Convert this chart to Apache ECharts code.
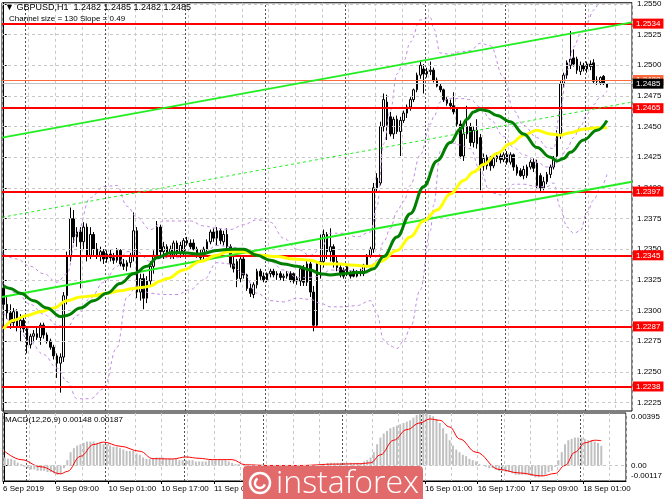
<!DOCTYPE html>
<html><head><meta charset="utf-8">
<script src="https://cdn.jsdelivr.net/npm/echarts@6/dist/echarts.min.js"></script>
<style>html,body{margin:0;padding:0;background:#fff}#c{width:665px;height:499px}</style>
</head><body><div id="c"></div>
<script>
const symbolTitle = 'GBPUSD,H1';
const channelText = 'Channel size = 130 Slope = 0.49';
const macdTitle = 'MACD(12,26,9)';
const xTickLabels = ['6 Sep 2019','9 Sep 09:00','10 Sep 01:00','10 Sep 17:00','11 Sep 09:00','12 Sep 01:00','12 Sep 17:00','13 Sep 09:00','16 Sep 01:00','16 Sep 17:00','17 Sep 09:00','18 Sep 01:00'];
const labelEvery = 16;
const gridEvery = 8;
const daySeparators = [7,31,55,79,103,127,151,175];
const emptyBars = 7;

const opens = [
1.2318,1.2305,1.2298,1.2290,1.2299,1.2287,1.2292,1.2285,1.2272,1.2279,
1.2281,1.2278,1.2288,1.2280,1.2275,1.2270,1.2263,1.2257,1.2262,1.2312,
1.2344,1.2375,1.2360,1.2364,1.2356,1.2368,1.2345,1.2362,1.2350,1.2345,
1.2348,1.2342,1.2346,1.2343,1.2341,1.2349,1.2338,1.2336,1.2339,1.2345,
1.2365,1.2315,1.2326,1.2310,1.2324,1.2336,1.2345,1.2368,1.2348,1.2352,
1.2346,1.2345,1.2355,1.2347,1.2348,1.2357,1.2355,1.2355,1.2350,1.2345,
1.2344,1.2350,1.2356,1.2364,1.2359,1.2365,1.2356,1.2362,1.2352,1.2338,
1.2340,1.2326,1.2342,1.2329,1.2318,1.2313,1.2321,1.2332,1.2328,1.2325,
1.2330,1.2332,1.2329,1.2330,1.2327,1.2328,1.2330,1.2330,1.2324,1.2324,
1.2334,1.2323,1.2338,1.2315,1.2288,1.2338,1.2340,1.2362,1.2348,1.2352,
1.2340,1.2335,1.2333,1.2336,1.2330,1.2332,1.2328,1.2331,1.2330,1.2337,
1.2345,1.2350,1.2400,1.2404,1.2450,1.2470,1.2458,1.2444,1.2456,1.2446,
1.2455,1.2461,1.2466,1.2472,1.2480,1.2492,1.2497,1.2493,1.2495,1.2496,
1.2488,1.2483,1.2480,1.2472,1.2469,1.2467,1.2465,1.2452,1.2426,1.2444,
1.2450,1.2437,1.2447,1.2441,1.2418,1.2418,1.2425,1.2418,1.2424,1.2426,
1.2423,1.2427,1.2421,1.2427,1.2417,1.2414,1.2410,1.2410,1.2417,1.2421,
1.2420,1.2410,1.2400,1.2405,1.2411,1.2417,1.2426,1.2444,1.2485,1.2492,
1.2500,1.2506,1.2505,1.2495,1.2500,1.2497,1.2501,1.2502,1.2487,1.2486,
1.2491,1.2482];
const highs = [
1.2322,1.2312,1.2305,1.2302,1.2301,1.2297,1.2294,1.2287,1.2281,1.2284,
1.2286,1.2290,1.2290,1.2282,1.2277,1.2272,1.2265,1.2265,1.2315,1.2348,
1.2384,1.2382,1.2368,1.2368,1.2372,1.2371,1.2368,1.2364,1.2355,1.2352,
1.2350,1.2349,1.2350,1.2347,1.2351,1.2350,1.2342,1.2341,1.2347,1.2380,
1.2368,1.2330,1.2330,1.2328,1.2340,1.2349,1.2373,1.2370,1.2356,1.2354,
1.2353,1.2357,1.2357,1.2356,1.2359,1.2360,1.2358,1.2358,1.2352,1.2350,
1.2352,1.2358,1.2366,1.2367,1.2368,1.2367,1.2365,1.2367,1.2354,1.2346,
1.2342,1.2345,1.2345,1.2330,1.2322,1.2323,1.2334,1.2334,1.2331,1.2331,
1.2334,1.2334,1.2332,1.2332,1.2330,1.2332,1.2332,1.2331,1.2328,1.2336,
1.2337,1.2342,1.2340,1.2320,1.2340,1.2362,1.2366,1.2364,1.2367,1.2354,
1.2344,1.2337,1.2335,1.2338,1.2333,1.2334,1.2333,1.2334,1.2338,1.2346,
1.2352,1.2404,1.2412,1.2454,1.2477,1.2476,1.2462,1.2458,1.2459,1.2458,
1.2463,1.2468,1.2474,1.2481,1.2494,1.2504,1.2501,1.2498,1.2503,1.2498,
1.2490,1.2485,1.2481,1.2474,1.2472,1.2478,1.2466,1.2455,1.2450,1.2467,
1.2453,1.2450,1.2456,1.2444,1.2428,1.2427,1.2426,1.2427,1.2429,1.2430,
1.2429,1.2430,1.2429,1.2428,1.2419,1.2416,1.2418,1.2419,1.2423,1.2424,
1.2423,1.2412,1.2409,1.2413,1.2419,1.2426,1.2447,1.2487,1.2494,1.2504,
1.2528,1.2513,1.2507,1.2503,1.2502,1.2503,1.2504,1.2505,1.2491,1.2491,
1.2492,1.2485];
const lows = [
1.2300,1.2293,1.2285,1.2287,1.2283,1.2275,1.2282,1.2265,1.2269,1.2274,
1.2276,1.2272,1.2277,1.2273,1.2268,1.2260,1.2245,1.2233,1.2258,1.2305,
1.2340,1.2355,1.2352,1.2318,1.2350,1.2340,1.2342,1.2345,1.2342,1.2340,
1.2338,1.2339,1.2340,1.2338,1.2339,1.2336,1.2333,1.2332,1.2335,1.2340,
1.2310,1.2308,1.2301,1.2306,1.2320,1.2330,1.2342,1.2345,1.2342,1.2343,
1.2342,1.2342,1.2345,1.2343,1.2345,1.2353,1.2350,1.2349,1.2343,1.2341,
1.2342,1.2348,1.2354,1.2356,1.2353,1.2354,1.2353,1.2350,1.2335,1.2331,
1.2319,1.2323,1.2326,1.2316,1.2311,1.2310,1.2318,1.2325,1.2323,1.2323,
1.2327,1.2327,1.2325,1.2324,1.2324,1.2326,1.2323,1.2322,1.2321,1.2320,
1.2320,1.2320,1.2311,1.2283,1.2286,1.2326,1.2335,1.2342,1.2340,1.2335,
1.2332,1.2327,1.2326,1.2328,1.2326,1.2327,1.2327,1.2328,1.2328,1.2335,
1.2343,1.2347,1.2396,1.2402,1.2446,1.2439,1.2442,1.2440,1.2444,1.2426,
1.2453,1.2457,1.2463,1.2470,1.2478,1.2489,1.2477,1.2490,1.2492,1.2486,
1.2482,1.2478,1.2470,1.2467,1.2464,1.2460,1.2450,1.2424,1.2422,1.2440,
1.2434,1.2433,1.2432,1.2398,1.2414,1.2415,1.2414,1.2416,1.2421,1.2420,
1.2421,1.2419,1.2419,1.2414,1.2410,1.2409,1.2407,1.2408,1.2415,1.2413,
1.2399,1.2397,1.2398,1.2403,1.2408,1.2415,1.2424,1.2440,1.2482,1.2489,
1.2497,1.2499,1.2493,1.2492,1.2495,1.2494,1.2496,1.2485,1.2484,1.2484,
1.2484,1.2482];
const closes = [
1.2305,1.2298,1.2290,1.2299,1.2287,1.2292,1.2285,1.2272,1.2279,1.2281,
1.2278,1.2288,1.2280,1.2275,1.2270,1.2263,1.2257,1.2262,1.2312,1.2344,
1.2375,1.2360,1.2364,1.2356,1.2368,1.2345,1.2362,1.2350,1.2345,1.2348,
1.2342,1.2346,1.2343,1.2341,1.2349,1.2338,1.2336,1.2339,1.2345,1.2365,
1.2315,1.2326,1.2310,1.2324,1.2336,1.2345,1.2368,1.2348,1.2352,1.2346,
1.2350,1.2355,1.2347,1.2353,1.2357,1.2355,1.2352,1.2350,1.2345,1.2343,
1.2350,1.2356,1.2364,1.2359,1.2365,1.2357,1.2362,1.2352,1.2338,1.2334,
1.2326,1.2342,1.2329,1.2318,1.2314,1.2321,1.2332,1.2328,1.2325,1.2330,
1.2332,1.2329,1.2330,1.2327,1.2328,1.2330,1.2325,1.2324,1.2326,1.2334,
1.2323,1.2338,1.2315,1.2288,1.2338,1.2340,1.2362,1.2348,1.2352,1.2340,
1.2335,1.2329,1.2328,1.2330,1.2328,1.2328,1.2331,1.2330,1.2337,1.2345,
1.2350,1.2400,1.2408,1.2450,1.2472,1.2451,1.2444,1.2456,1.2446,1.2455,
1.2461,1.2466,1.2472,1.2480,1.2492,1.2500,1.2493,1.2495,1.2496,1.2488,
1.2483,1.2480,1.2472,1.2469,1.2467,1.2462,1.2452,1.2426,1.2444,1.2450,
1.2437,1.2447,1.2436,1.2418,1.2424,1.2425,1.2418,1.2424,1.2426,1.2423,
1.2427,1.2421,1.2427,1.2417,1.2412,1.2410,1.2415,1.2417,1.2421,1.2416,
1.2402,1.2400,1.2405,1.2411,1.2417,1.2424,1.2444,1.2485,1.2492,1.2502,
1.2505,1.2501,1.2496,1.2500,1.2497,1.2501,1.2499,1.2487,1.2488,1.2490,
1.2485,1.2485];

const priceTicks = [1.2225,1.2250,1.2275,1.2300,1.2325,1.2350,1.2375,1.2400,1.2425,1.2450,1.2475,1.2500,1.2525,1.2550];
const priceMin = 1.2218, priceMax = 1.2551;
const levels = [1.2534,1.2465,1.2397,1.2345,1.2287,1.2238];
const askPrice = 1.2488, bidPrice = 1.2485;

const maGreen = [[0,1.2320],[2,1.2318],[5,1.2314],[9,1.2308],[13,1.2302],[17,1.2295],[19,1.2296],[23,1.2302],[27,1.2308],[31,1.2314],[35,1.2322],[39,1.2330],[43,1.2336],[46,1.2343],[50,1.2347],[54,1.2347],[59,1.2346],[64,1.2349],[68,1.2350],[72,1.2350],[76,1.2345],[80,1.2341],[84,1.2338],[88,1.2336],[92,1.2333],[95,1.2330],[98,1.2329],[102,1.2330],[106,1.2331],[108,1.2331],[111,1.2334],[114,1.2344],[118,1.2360],[122,1.2379],[126,1.2401],[130,1.2422],[134,1.2437],[137,1.2448],[139,1.2456],[141,1.2462],[143,1.2464],[145,1.2463],[148,1.2459],[152,1.2454],[156,1.2444],[160,1.2433],[164,1.2425],[166,1.2422],[168,1.2424],[170,1.2429],[174,1.2439],[178,1.2447],[181,1.2455]];
const maYellow = [[0,1.2285],[3,1.2292],[7,1.2296],[11,1.2299],[15,1.2302],[19,1.2308],[23,1.2311],[27,1.2312],[31,1.2314],[35,1.2316],[39,1.2318],[42,1.2319],[44,1.2320],[47,1.2324],[49,1.2326],[54,1.2333],[59,1.2340],[64,1.2345],[67,1.2348],[72,1.2348],[77,1.2345],[82,1.2344],[87,1.2342],[92,1.2341],[96,1.2338],[101,1.2338],[104,1.2337],[110,1.2336],[113,1.2340],[118,1.2349],[122,1.2360],[126,1.2373],[130,1.2382],[134,1.2395],[138,1.2406],[141,1.2413],[144,1.2419],[148,1.2428],[152,1.2436],[156,1.2443],[160,1.2447],[164,1.2444],[167,1.2443],[170,1.2445],[174,1.2448],[178,1.2449],[181,1.2449]];

const bandUpper = [[0,1.2346],[4,1.2342],[8,1.2336],[12,1.2330],[16,1.2323],[19,1.2330],[22,1.2363],[26,1.2392],[30,1.2401],[34,1.2402],[37,1.2385],[40,1.2376],[44,1.2366],[48,1.2373],[52,1.2373],[56,1.2373],[60,1.2369],[64,1.2367],[68,1.2366],[72,1.2370],[76,1.2374],[80,1.2372],[84,1.2359],[88,1.2350],[92,1.2345],[95,1.2350],[98,1.2363],[102,1.2363],[106,1.2360],[110,1.2364],[112,1.2385],[114,1.2436],[116,1.2463],[118,1.2493],[120,1.2503],[122,1.2519],[125,1.2537],[128,1.2539],[129,1.2530],[131,1.2510],[134,1.2509],[137,1.2511],[140,1.2512],[143,1.2518],[146,1.2516],[150,1.2490],[153,1.2463],[156,1.2451],[160,1.2441],[163,1.2433],[165,1.2432],[167,1.2464],[169,1.2496],[171,1.2515],[173,1.2525],[175,1.2535],[177,1.2545],[179,1.2552],[181,1.2556]];
const bandMiddle = [[0,1.2322],[4,1.2314],[8,1.2305],[12,1.2297],[16,1.2288],[19,1.2286],[22,1.2296],[26,1.2310],[30,1.2323],[34,1.2336],[37,1.2348],[40,1.2348],[44,1.2340],[48,1.2343],[52,1.2343],[56,1.2345],[60,1.2347],[64,1.2353],[68,1.2352],[72,1.2350],[76,1.2344],[80,1.2340],[84,1.2333],[88,1.2327],[92,1.2327],[95,1.2328],[98,1.2333],[102,1.2333],[106,1.2332],[110,1.2336],[112,1.2341],[114,1.2356],[116,1.2367],[118,1.2381],[120,1.2389],[122,1.2402],[125,1.2427],[128,1.2452],[129,1.2458],[131,1.2470],[134,1.2473],[137,1.2473],[140,1.2472],[143,1.2466],[146,1.2456],[150,1.2442],[153,1.2433],[156,1.2427],[160,1.2421],[163,1.2417],[165,1.2418],[167,1.2424],[169,1.2432],[171,1.2441],[173,1.2450],[175,1.2460],[177,1.2468],[179,1.2474],[181,1.2479]];
const bandLower = [[0,1.2298],[4,1.2286],[8,1.2274],[12,1.2264],[16,1.2253],[19,1.2242],[22,1.2228],[26,1.2228],[30,1.2236],[34,1.2270],[37,1.2311],[40,1.2320],[44,1.2314],[48,1.2313],[52,1.2313],[56,1.2317],[60,1.2325],[64,1.2339],[68,1.2338],[72,1.2330],[76,1.2314],[80,1.2308],[84,1.2307],[88,1.2310],[92,1.2309],[95,1.2306],[98,1.2303],[102,1.2303],[106,1.2304],[110,1.2308],[112,1.2297],[114,1.2276],[116,1.2271],[118,1.2269],[120,1.2275],[122,1.2286],[125,1.2317],[128,1.2365],[129,1.2386],[131,1.2430],[134,1.2437],[137,1.2435],[140,1.2432],[143,1.2414],[146,1.2396],[150,1.2394],[153,1.2403],[156,1.2403],[160,1.2401],[163,1.2401],[165,1.2404],[167,1.2384],[169,1.2368],[171,1.2363],[173,1.2365],[175,1.2380],[177,1.2390],[179,1.2400],[181,1.2411]];

const channelUpper = [[-0.5,1.2441],[188.5,1.2535]];
const channelMiddle = [[-0.5,1.2376],[188.5,1.2470]];
const channelLower = [[-0.5,1.2311],[188.5,1.2405]];

const macdHist = [
0.0006,0.0005,0.0005,0.0004,0.0002,0.0001,-0.0001,-0.0002,-0.0003,-0.0003,
-0.0004,-0.0004,-0.0004,-0.0005,-0.0005,-0.0006,-0.0007,-0.0006,-0.0002,0.0004,
0.0010,0.0013,0.0015,0.0016,0.0017,0.0018,0.0018,0.0018,0.0017,0.0017,
0.0016,0.0016,0.0015,0.0014,0.0014,0.0013,0.0012,0.0011,0.0011,0.0011,
0.0009,0.0008,0.0006,0.0005,0.0005,0.0005,0.0006,0.0006,0.0006,0.0005,
0.0005,0.0005,0.0005,0.0004,0.0004,0.0004,0.0004,0.0004,0.0003,0.0003,
0.0003,0.0003,0.0004,0.0004,0.0004,0.0004,0.0004,0.0004,0.0003,0.0002,
0.0001,0.0001,0.0000,-0.0001,-0.0002,-0.0002,-0.0001,-0.0001,-0.0001,-0.0001,
-0.0001,-0.0001,-0.0001,-0.0001,-0.0001,-0.0001,-0.0001,-0.0001,-0.0001,0.0000,
0.0000,0.0000,-0.0001,-0.0003,-0.0002,0.0000,0.0001,0.0001,0.0002,0.0002,
0.0002,0.0002,0.0002,0.0002,0.0002,0.0002,0.0002,0.0002,0.0002,0.0003,
0.0004,0.0006,0.0010,0.0016,0.0021,0.0024,0.0026,0.0028,0.0029,0.0030,
0.0031,0.0032,0.0033,0.0034,0.0036,0.0038,0.0039,0.0039,0.0039,0.0038,
0.0037,0.0035,0.0032,0.0028,0.0024,0.0019,0.0015,0.0012,0.0010,0.0008,
0.0007,0.0005,0.0004,0.0003,0.0001,0.0000,-0.0001,-0.0002,-0.0002,-0.0003,
-0.0004,-0.0004,-0.0005,-0.0005,-0.0006,-0.0007,-0.0007,-0.0007,-0.0007,-0.0007,
-0.0008,-0.0009,-0.0009,-0.0008,-0.0007,-0.0005,-0.0004,-0.0001,0.0004,0.0010,
0.0016,0.0019,0.0020,0.0021,0.0021,0.0021,0.0020,0.0019,0.0019,0.0018,
0.0017,0.00148];
const macdSignal = [[0,0.00107],[5,0.00044],[11,-0.0001],[17,-0.00063],[19,-0.00045],[23,0.00069],[27,0.00158],[30,0.00176],[35,0.00145],[41,0.00107],[45,0.00051],[51,0.00049],[55,0.00064],[59,0.00054],[63,0.00044],[69,0.00044],[73,0.00005],[80,0.0000],[90,0.0000],[100,0.0001],[108,0.00013],[111,0.0002],[114,0.0008],[118,0.0019],[122,0.0027],[126,0.0032],[129,0.0035],[132,0.0034],[135,0.0029],[138,0.0020],[143,0.0010],[150,-0.0003],[156,-0.00056],[163,-0.00079],[167,-0.0006],[170,0.0000],[173,0.0010],[176,0.0017],[179,0.0019],[181,0.00187]];
const macdTicks = [0.00395, 0.00, -0.00117];
const macdTickText = ['0.00395','0.00','-0.00117'];
const macdMin = -0.00117, macdMax = 0.00395;

const FONT = '"Liberation Sans", Arial, sans-serif';
const nBars = opens.length;
const cats = Array.from({length: nBars + emptyBars}, (_, i) => String(i));
const xMax = cats.length - 0.5;
const candles = opens.map((o, i) => [o, closes[i], lows[i], highs[i]]);
const labelPos = xTickLabels.map((_, k) => k * labelEvery - 0.5);
const last = nBars - 1;
const headerText = '\u25BC ' + symbolTitle + '  ' + [opens[last], highs[last], lows[last], closes[last]].map(v => v.toFixed(4)).join(' ');
const macdHeader = macdTitle + ' ' + macdHist[last].toFixed(5) + ' ' + macdSignal[macdSignal.length - 1][1].toFixed(5);

const vGrid = {show: true, interval: (i) => i % gridEvery === 0, lineStyle: {color: '#c8c8c8', type: [3, 3], width: 1}};
const sepLines = daySeparators.map(d => ({xAxis: d - 0.5, lineStyle: {color: '#505050', type: [2, 2], width: 1}}));

function lineSeries(data, color, width, type, z) {
  return {type: 'line', xAxisIndex: 1, yAxisIndex: 0, data: data, showSymbol: false, symbol: 'none',
    smooth: 0.4, smoothMonotone: 'x', silent: true, z: z, animation: false,
    lineStyle: {color: color, width: width, type: type}};
}

const chart = echarts.init(document.getElementById('c'));
chart.setOption({
  animation: false,
  backgroundColor: '#fff',
  grid: [
    {left: 2, top: 2, width: 630, height: 409, show: true, borderColor: '#000', borderWidth: 1, backgroundColor: '#fff'},
    {left: 2, top: 413, width: 630, height: 68, show: true, borderColor: '#000', borderWidth: 1, backgroundColor: '#fff'}
  ],
  xAxis: [
    {type: 'category', gridIndex: 0, data: cats, boundaryGap: true, axisLine: {show: false}, axisTick: {show: false}, axisLabel: {show: false}, splitLine: vGrid},
    {type: 'value', gridIndex: 0, min: -0.5, max: xMax, show: false},
    {type: 'category', gridIndex: 1, data: cats, boundaryGap: true, axisLine: {show: false}, axisTick: {show: false}, axisLabel: {show: false}, splitLine: vGrid},
    {type: 'value', gridIndex: 1, min: -0.5, max: xMax, position: 'bottom',
      axisLine: {show: true, lineStyle: {color: '#000'}},
      axisTick: {show: true, customValues: labelPos, length: 3, lineStyle: {color: '#000'}},
      axisLabel: {show: true, customValues: labelPos, align: 'left', fontSize: 8, color: '#000', margin: 4, fontFamily: FONT,
        formatter: v => xTickLabels[Math.round((v + 0.5) / labelEvery)] || ''},
      splitLine: {show: false}}
  ],
  yAxis: [
    {type: 'value', gridIndex: 0, position: 'right', min: priceMin, max: priceMax,
      axisLine: {show: true, lineStyle: {color: '#000'}},
      axisTick: {show: true, customValues: priceTicks, length: 3, lineStyle: {color: '#000'}},
      axisLabel: {customValues: priceTicks, formatter: v => v.toFixed(4), fontSize: 8, color: '#000', margin: 5, fontFamily: FONT},
      splitLine: {show: false}},
    {type: 'value', gridIndex: 1, position: 'right', min: macdMin, max: macdMax,
      axisLine: {show: true, lineStyle: {color: '#000'}},
      axisTick: {show: true, customValues: macdTicks, length: 3, lineStyle: {color: '#000'}},
      axisLabel: {customValues: macdTicks, fontSize: 8, color: '#000', margin: 5, fontFamily: FONT,
        formatter: v => {
          const k = macdTicks.findIndex(t => Math.abs(t - v) < 1e-9);
          const t = macdTickText[k] || '';
          if (k === 0) return '{top|' + t + '}';
          if (k === macdTicks.length - 1) return '{bot|' + t + '}';
          return t;
        },
        rich: {top: {padding: [8, 0, 0, 0], fontSize: 8, color: '#000', fontFamily: FONT},
               bot: {padding: [0, 0, 10, 0], fontSize: 8, color: '#000', fontFamily: FONT}}},
      splitLine: {show: false}}
  ],
  series: [
    {type: 'line', xAxisIndex: 1, yAxisIndex: 0, data: [], silent: true, z: 1,
      markLine: {silent: true, precision: 6, symbol: ['none', 'none'], label: {show: false}, animation: false,
        data: priceTicks.map(v => ({yAxis: v, lineStyle: {color: '#c8c8c8', type: [3, 3], width: 1}})).concat(sepLines)}},
    {type: 'line', xAxisIndex: 3, yAxisIndex: 1, data: [], silent: true, z: 1,
      markLine: {silent: true, precision: 6, symbol: ['none', 'none'], label: {show: false}, animation: false,
        data: [{yAxis: 0, lineStyle: {color: '#c8c8c8', type: [3, 3], width: 1}}].concat(sepLines)}},
    {type: 'candlestick', xAxisIndex: 0, yAxisIndex: 0, data: candles, barWidth: '70%', silent: true, z: 3,
      itemStyle: {color: '#fff', color0: '#000', borderColor: '#000', borderColor0: '#000', borderWidth: 1}},
    lineSeries(bandUpper, '#c08ae6', 1, [3, 3], 4),
    lineSeries(bandMiddle, '#c08ae6', 1, [3, 3], 4),
    lineSeries(bandLower, '#c08ae6', 1, [3, 3], 4),
    lineSeries(channelUpper, '#22ee22', 2, 'solid', 5),
    lineSeries(channelMiddle, '#22ee22', 1, [3, 3], 5),
    lineSeries(channelLower, '#22ee22', 2, 'solid', 5),
    lineSeries(maYellow, '#ffff00', 3, 'solid', 6),
    lineSeries(maGreen, '#008000', 3, 'solid', 6),
    {type: 'line', xAxisIndex: 1, yAxisIndex: 0, data: [], silent: true, z: 7,
      markLine: {silent: true, precision: 6, symbol: ['none', 'none'], animation: false,
        label: {show: true, position: 'end', distance: 1, color: '#fff', fontSize: 8, fontFamily: FONT, padding: [1, 3, 1, 3],
          formatter: p => Number(p.value).toFixed(4)},
        data: levels.map(v => ({yAxis: v, lineStyle: {color: '#ff0000', width: 2, type: 'solid'}, label: {backgroundColor: '#ff0000'}}))
          .concat([
            {yAxis: askPrice, lineStyle: {color: '#ff6a3d', width: 1, type: 'solid'}, label: {backgroundColor: '#ff6a3d'}},
            {yAxis: bidPrice, lineStyle: {color: '#c0c0c0', width: 1, type: 'solid'}, label: {backgroundColor: '#000'}}
          ])}},
    {type: 'bar', xAxisIndex: 2, yAxisIndex: 1, data: macdHist, barWidth: '60%', silent: true, z: 3,
      itemStyle: {color: '#c0c0c0'}},
    {type: 'line', xAxisIndex: 3, yAxisIndex: 1, data: macdSignal, showSymbol: false, symbol: 'none', smooth: 0.4, smoothMonotone: 'x',
      silent: true, z: 4, lineStyle: {color: '#ff0000', width: 1}}
  ],
  graphic: [
    {type: 'text', x: 5, y: 8, z: 50, style: {text: headerText, font: '9px ' + FONT, fill: '#000', verticalAlign: 'middle'}},
    {type: 'text', x: 9, y: 19, z: 50, style: {text: channelText, font: '8px ' + FONT, fill: '#000', verticalAlign: 'middle'}},
    {type: 'text', x: 5, y: 420, z: 50, style: {text: macdHeader, font: '8px ' + FONT, fill: '#000', verticalAlign: 'middle'}},
    {type: 'rect', x: 243, y: 466, z: 100, shape: {x: 0, y: 0, width: 180, height: 40, r: 4}, style: {fill: '#e36a6a'}},
    {type: 'circle', z: 101, shape: {cx: 260, cy: 483, r: 10}, style: {fill: 'none', stroke: '#fff', lineWidth: 2.5}},
    {type: 'arc', z: 101, shape: {cx: 260, cy: 483, r: 5, startAngle: 0.3, endAngle: 4.2}, style: {fill: 'none', stroke: '#fff', lineWidth: 2.5}},
    {type: 'text', x: 276, y: 484, z: 101, style: {text: 'instaforex', font: '300 32px "Open Sans", sans-serif', fill: '#fff', verticalAlign: 'middle'}}
  ]
});
</script>
</body></html>
